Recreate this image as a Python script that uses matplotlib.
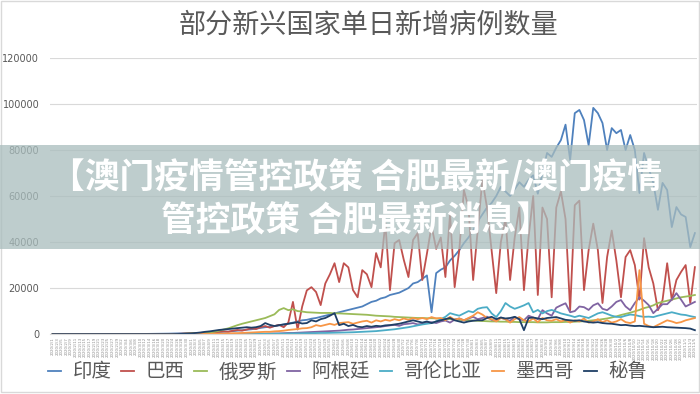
import matplotlib
matplotlib.use('Agg')
import matplotlib.pyplot as plt
from matplotlib.patches import Rectangle
import pandas as pd

plt.rcParams['font.family'] = ['Noto Sans CJK SC', 'DejaVu Sans']

title = '部分新兴国家单日新增病例数量'
banner = '【澳门疫情管控政策 合肥最新/澳门疫情\n管控政策 合肥最新消息】'
countries = ['印度', '巴西', '俄罗斯', '阿根廷', '哥伦比亚', '墨西哥', '秘鲁']
colors = ['#4F81BD', '#C0504D', '#9BBB59', '#8064A2', '#4BACC6', '#F79646', '#1F3F66']
dates = [f'{d.year}/{d.month}/{d.day}' for d in pd.date_range('2020-02-01', periods=140, freq='2D')]
y_ticks = [0, 20000, 40000, 60000, 80000, 100000, 120000]

india = [0, 0, 0, 0, 0, 0, 0, 0, 0, 0,
         0, 0, 0, 0, 0, 0, 10, 20, 30, 50,
         60, 80, 100, 100, 150, 200, 250, 300, 350, 400,
         450, 500, 550, 650, 700, 800, 900, 1000, 1100, 1300,
         1500, 1700, 1900, 2100, 2400, 2700, 3000, 3200, 3500, 3800,
         4200, 4600, 5000, 5500, 6000, 6200, 6700, 7000, 7500, 8000,
         8500, 9000, 9500, 10000, 10500, 11000, 11500, 12000, 13000, 14000,
         14500, 15500, 16000, 17000, 17500, 18000, 19000, 20000, 22000, 22600,
         24000, 25500, 9500, 26500, 28000, 29000, 32000, 34000, 36500, 39500,
         42000, 45000, 49000, 52000, 55000, 57000, 60000, 64000, 62000, 60000,
         63000, 66000, 64000, 67000, 69000, 61000, 70000, 78700, 77000, 81000,
         84300, 91000, 75600, 96000, 97400, 93000, 82000, 98300, 96000, 91700,
         80000, 89500, 87300, 88700, 80000, 86500, 80000, 61300, 78700, 72000,
         65700, 54000, 65700, 62600, 46500, 55200, 52000, 50900, 37800, 43900]

brazil = [0, 0, 0, 0, 0, 0, 0, 0, 0, 0,
          0, 0, 0, 0, 0, 0, 0, 0, 0, 0,
          0, 0, 0, 0, 0, 50, 100, 100, 200, 300,
          400, 500, 400, 600, 800, 700, 1000, 1200, 1000, 1500,
          1800, 1500, 2000, 2500, 2200, 3000, 3500, 2800, 3500, 4000,
          3000, 5000, 14000, 2000, 12000, 19000, 20400, 18300, 12600, 22000,
          26000, 30800, 22600, 30800, 29000, 19100, 16000, 27800, 26000, 20400,
          35200, 29000, 48200, 19100, 39500, 40900, 32200, 24800, 40900, 43900,
          23500, 35000, 47000, 37000, 42000, 24800, 52000, 20400, 36500, 62600,
          55000, 23500, 45200, 67000, 55000, 36500, 17800, 40000, 50000, 23500,
          42000, 55000, 19100, 42000, 60000, 17000, 55000, 50000, 16000, 55000,
          62000, 50000, 10400, 56000, 58000, 19100, 36500, 48000, 36500, 13500,
          33500, 45000, 32000, 16000, 33500, 36500, 30000, 15000, 41700, 29000,
          22000, 10400, 14800, 30800, 14800, 23500, 27000, 30000, 13500, 29100]

russia = [0, 0, 0, 0, 0, 0, 0, 0, 0, 0,
          0, 0, 0, 0, 0, 0, 0, 0, 0, 0,
          0, 0, 0, 0, 0, 0, 0, 50, 100, 200,
          300, 400, 500, 600, 800, 1000, 1500, 2000, 2500, 3200,
          3900, 4500, 5000, 5500, 6000, 6500, 7000, 7800, 8600, 10500,
          11300, 10400, 10800, 10000, 9800, 9500, 9400, 9300, 9200, 9200,
          9200, 9000, 9000, 8900, 8800, 8700, 8600, 8500, 8400, 8200,
          8000, 7900, 7800, 7700, 7500, 7400, 7300, 7200, 7100, 7000,
          7000, 6900, 6900, 6800, 6700, 6600, 6500, 6400, 6200, 6000,
          6000, 5900, 5800, 5700, 5600, 5500, 5500, 5400, 5400, 5300,
          5300, 5200, 5200, 5200, 5200, 5100, 5100, 5100, 5200, 5200,
          5200, 5300, 5300, 5400, 5500, 5600, 5800, 6000, 6200, 6500,
          6800, 7200, 7700, 8300, 8800, 9300, 9900, 10500, 11300, 11800,
          12500, 13500, 14000, 14500, 15000, 15500, 16000, 16300, 16600, 17000]

argentina = [0, 0, 0, 0, 0, 0, 0, 0, 0, 0,
             0, 0, 0, 0, 0, 0, 0, 0, 0, 0,
             0, 0, 0, 0, 0, 0, 0, 0, 0, 0,
             0, 0, 0, 0, 0, 0, 0, 0, 0, 0,
             0, 0, 50, 100, 100, 150, 200, 250, 300, 300,
             400, 500, 500, 600, 700, 800, 900, 1000, 1100, 1200,
             1300, 1400, 1500, 1700, 1900, 2000, 2200, 2400, 2600, 2800,
             3000, 3200, 3500, 3800, 4000, 3600, 4300, 4500, 4800, 4200,
             4500, 5000, 5200, 4800, 5500, 5900, 5000, 6300, 6800, 6000,
             6800, 7500, 6500, 7000, 7600, 6200, 5800, 7200, 6400, 5800,
             7500, 6400, 6000, 8000, 7200, 6500, 10400, 9000, 8000, 11500,
             12500, 13400, 9500, 10000, 12000, 11700, 10500, 12500, 13400, 11000,
             10400, 12000, 14000, 14800, 12000, 10400, 13500, 16000, 14500, 12600,
             9100, 11000, 13000, 13000, 15000, 17800, 15000, 12000, 13000, 14000]

colombia = [0, 0, 0, 0, 0, 0, 0, 0, 0, 0,
            0, 0, 0, 0, 0, 0, 0, 0, 0, 0,
            0, 0, 0, 0, 0, 0, 0, 0, 0, 0,
            0, 0, 0, 0, 0, 0, 0, 0, 0, 0,
            0, 0, 0, 50, 50, 100, 100, 150, 150, 200,
            200, 250, 300, 300, 350, 400, 400, 450, 500, 500,
            550, 600, 650, 700, 750, 800, 900, 1000, 1100, 1200,
            1300, 1500, 1700, 1900, 2100, 2400, 2700, 3000, 3400, 3800,
            4200, 4500, 4800, 5500, 6500, 7500, 9100, 8500, 8000, 9000,
            10000, 9500, 11000, 11500, 11700, 9000, 7400, 10000, 13500, 12000,
            11000, 11700, 12500, 13500, 9500, 10500, 9000, 10000, 10500, 9800,
            9000, 8500, 8000, 7400, 8000, 7500, 7000, 8000, 9000, 9500,
            8800, 8000, 7500, 7400, 8000, 8500, 8300, 7800, 7500, 7600,
            7400, 8000, 8500, 9000, 9500, 9000, 8500, 8300, 7800, 7400]

mexico = [0, 0, 0, 0, 0, 0, 0, 0, 0, 0,
          0, 0, 0, 0, 0, 0, 0, 0, 0, 0,
          0, 0, 0, 0, 0, 0, 0, 0, 0, 0,
          0, 0, 50, 100, 100, 150, 200, 250, 300, 400,
          450, 500, 600, 700, 800, 900, 1000, 1000, 1200, 1300,
          1500, 1800, 2000, 2200, 2500, 2600, 3000, 3900, 3500, 4000,
          4500, 4000, 4800, 5000, 5200, 4500, 5000, 5500, 5800, 5000,
          6000, 5500, 6200, 5800, 6500, 6000, 6800, 6200, 7000, 6500,
          7000, 6500, 7400, 6800, 7000, 6000, 7500, 6200, 6800, 6000,
          7000, 8000, 9500, 8500, 7000, 6500, 5500, 7000, 6500, 5000,
          6500, 7400, 6000, 5500, 6800, 5200, 7000, 6000, 5800, 6500,
          5500, 6200, 5000, 6000, 5500, 6800, 5000, 5500, 6500, 5200,
          6000, 5000, 5500, 6500, 5200, 4800, 5500, 27800, 4500, 3500,
          3000, 4000, 5000, 6000, 5500, 4800, 5200, 6000, 6500, 7000]

peru = [0, 0, 0, 0, 0, 0, 0, 0, 0, 0,
        0, 0, 0, 0, 0, 0, 0, 0, 0, 0,
        0, 0, 0, 0, 0, 0, 0, 50, 100, 200,
        300, 500, 700, 1000, 1200, 1500, 1800, 2000, 2200, 2400,
        2600, 2800, 3000, 2800, 3000, 3500, 4800, 4000, 3500, 3900,
        4200, 4500, 4800, 5200, 4600, 4800, 6000, 5500, 6500, 7000,
        8000, 9100, 3900, 4500, 3500, 4000, 3200, 3000, 3500, 3200,
        3600, 3400, 3800, 3900, 4200, 4500, 5000, 5500, 6000, 5500,
        5000, 5500, 4800, 5500, 6000, 6500, 7000, 6000, 5500, 5000,
        5500, 5800, 6000, 6000, 7000, 7500, 6500, 7200, 6800, 7000,
        7500, 6500, 1700, 7000, 7200, 6800, 6500, 7000, 7200, 7400,
        6800, 6200, 6000, 5800, 6000, 5500, 5200, 5000, 5200, 4800,
        4600, 4500, 4200, 3900, 4000, 3700, 3500, 3600, 3400, 3200,
        3000, 3100, 3200, 3000, 2900, 2800, 2700, 2600, 2400, 1700]

series = [india, brazil, russia, argentina, colombia, mexico, peru]

fig = plt.figure(figsize=(7, 3.94), dpi=100)
ax = fig.add_axes([0.072, 0.152, 0.924, 0.701])

x = list(range(len(dates)))
for name, vals, c in zip(countries, series, colors):
    ax.plot(x, vals, color=c, lw=1.3, label=name)

ax.set_ylim(0, 120000)
ax.set_xlim(-0.5, len(dates) - 0.5)
ax.set_yticks(y_ticks)
ax.set_yticklabels([str(v) for v in y_ticks], fontsize=7, color='#595959',
                   family=['DejaVu Sans'])
ax.set_xticks(x)
ax.set_xticklabels(dates, rotation=90, fontsize=2.9, color='#8c8c8c',
                   family=['DejaVu Sans'])
ax.tick_params(axis='both', length=0)
ax.tick_params(axis='y', pad=8)
ax.tick_params(axis='x', pad=2)
ax.grid(axis='y', color='#d9d9d9', lw=0.8)
ax.set_axisbelow(True)
for s in ['top', 'right', 'left']:
    ax.spines[s].set_visible(False)
ax.spines['bottom'].set_color('#d9d9d9')

fig.text(0.526, 0.937, title, ha='center', va='center', fontsize=19.5,
         color='#595959', fontweight='light')

leg = fig.legend(*ax.get_legend_handles_labels(), loc='center', ncol=7,
                 bbox_to_anchor=(0.497, 0.056), frameon=False,
                 handlelength=0.65, handletextpad=0.6, columnspacing=0.5,
                 prop={'size': 14, 'weight': 'light'})
for t in leg.get_texts():
    t.set_color('#595959')

fig.patches.append(Rectangle((0.002, 0.004), 0.996, 0.993, transform=fig.transFigure,
                             fill=False, edgecolor='#d9d9d9', lw=1))
fig.patches.append(Rectangle((0, 0.368), 1, 0.264, transform=fig.transFigure,
                             facecolor='#a9bdbd', alpha=0.75, edgecolor='none', zorder=5))
fig.text(0.508, 0.495, banner, ha='center', va='center', fontsize=25,
         color='white', fontweight='bold', linespacing=1.28, zorder=6)

fig.savefig('out.png', dpi=100)
